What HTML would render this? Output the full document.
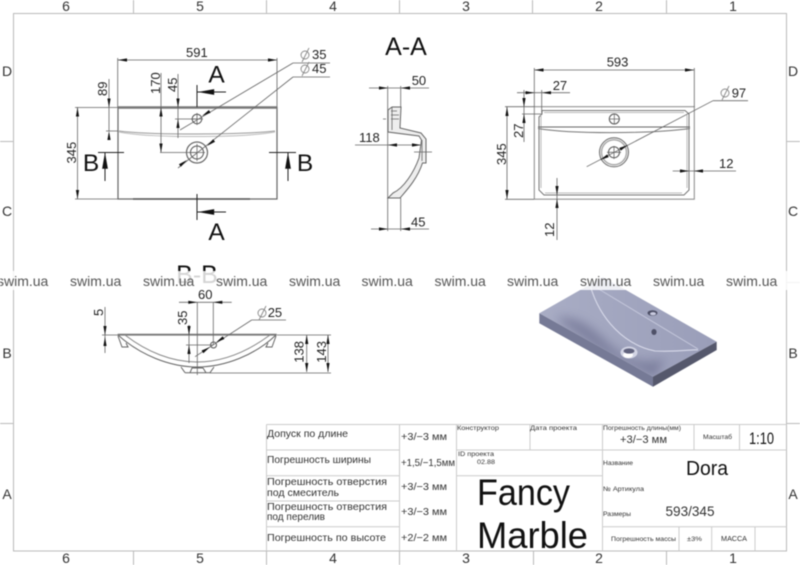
<!DOCTYPE html>
<html><head><meta charset="utf-8"><style>
html,body{margin:0;padding:0;background:#fff;width:800px;height:565px;overflow:hidden}
svg{display:block;filter:blur(.4px)}
text{font-family:"Liberation Sans",sans-serif}
.d{font-size:13px;fill:#222}
.z{font-size:14px;fill:#333;text-anchor:middle}
.s{font-size:14px;fill:#555}
.l{stroke:#666;stroke-width:.8;fill:none}
.o{stroke:#555;stroke-width:1;fill:none}
.g{stroke:#bbb;stroke-width:1;fill:none}
.t{stroke:#ccc;stroke-width:1;fill:none}
.c{font-family:"DejaVu Sans","Liberation Sans",sans-serif;fill:#333}
</style></head><body>
<svg width="800" height="565" viewBox="0 0 800 565" xmlns="http://www.w3.org/2000/svg">
<defs>
<polygon id="a" points="0,0 -9,-1.6 -9,1.6" fill="#111"/>
<g id="p" fill="none" stroke="#888" stroke-width=".9"><circle r="4"/><path d="M-3 7L4 -7"/></g>
<linearGradient id="tp" x1="0" y1="0" x2="1" y2="0"><stop offset="0" stop-color="#a9adc5"/><stop offset="1" stop-color="#9a9eb9"/></linearGradient>
<filter id="sb" x="-30%" y="-30%" width="160%" height="160%"><feGaussianBlur stdDeviation="5"/></filter>
<clipPath id="tc"><polygon points="539.300,313.300 603,277 716.700,341.700 653,376.700"/></clipPath>
</defs>
<rect width="800" height="565" fill="#fff"/>

<!-- frame -->
<path class="g" d="M13.500 13.500H786.500V551H13.500Z"/>
<path class="g" d="M133.500 0V13M266.500 0V13M399.500 0V13M532.500 0V13M666.500 0V13M133.500 551V565M266.500 551V565M399.500 551V565M533.500 551V565M666.500 551V565M0 141.500H13M0 282.500H13M0 423.500H13M787 141.500H800M787 282.500H800M787 423.500H800"/>
<g class="z">
<text x="66" y="11">6</text><text x="200" y="11">5</text><text x="333" y="11">4</text><text x="466" y="11">3</text><text x="599" y="11">2</text><text x="733" y="11">1</text>
<text x="66" y="563">6</text><text x="200" y="563">5</text><text x="333" y="563">4</text><text x="466" y="563">3</text><text x="599" y="563">2</text><text x="733" y="563">1</text>
<text x="7" y="76">D</text><text x="7" y="216">C</text><text x="7" y="358">B</text><text x="7" y="499">A</text>
<text x="793" y="76">D</text><text x="793" y="216">C</text><text x="793" y="358">B</text><text x="793" y="499">A</text>
</g>

<!-- LEFT VIEW -->
<rect x="118" y="107.500" width="159" height="91.500" fill="none" stroke="#666" stroke-width="1.200"/>
<path d="M118 107.500H277" stroke="#777" stroke-width="2.400"/>
<path d="M133 199H250" stroke="#555" stroke-width="1.400"/>
<path d="M119 131C150 135 240 135 275 131" stroke="#999" stroke-width="1" fill="none"/>
<path d="M119 132C150 138 240 138 275 132" stroke="#bbb" stroke-width="1" fill="none"/>
<circle cx="197" cy="119" r="4.800" class="o"/><path class="l" d="M191 119H203M197 113V125"/>
<circle cx="197" cy="152.500" r="10.500" fill="none" stroke="#666" stroke-width="1.200"/><circle cx="197" cy="152.500" r="6.500" class="o"/><path class="l" d="M189 152.500H205M197 144V161"/>
<path class="l" d="M117.700 58V107M277 58V107M118 60H277M75 107.500H118M75 199H118M109 79V131M106 131H118M161 73V152.500M160 152.500H197M178 74V138M175 119H197"/>
<path class="l" d="M77.500 107V199"/>
<path d="M293 63H330M293 63L180 130M293 77H330M293 77L178 168" class="l"/>
<use href="#a" transform="translate(118,60) rotate(180)"/><use href="#a" transform="translate(277,60)"/>
<use href="#a" transform="translate(77.500,107.500) rotate(-90)"/><use href="#a" transform="translate(77.500,199) rotate(90)"/>
<use href="#a" transform="translate(109,107.500) rotate(90)"/><use href="#a" transform="translate(109,131) rotate(-90)"/>
<use href="#a" transform="translate(161,107.500) rotate(-90)"/><use href="#a" transform="translate(161,152.500) rotate(90)"/>
<use href="#a" transform="translate(178,107.500) rotate(90)"/><use href="#a" transform="translate(178,119) rotate(-90)"/>
<use href="#a" transform="translate(202,116) rotate(149)"/><use href="#a" transform="translate(207,146) rotate(142)"/><use href="#a" transform="translate(187,160) rotate(-38)"/>
<text class="d" x="186" y="57">591</text>
<use href="#p" x="305" y="55"/><text class="d" x="312" y="59">35</text>
<use href="#p" x="305" y="69"/><text class="d" x="312" y="73">45</text>
<text class="d" transform="translate(76,163.500) rotate(-90)">345</text>
<text class="d" transform="translate(107,96) rotate(-90)">89</text>
<text class="d" transform="translate(160,94) rotate(-90)">170</text>
<text class="d" transform="translate(177,92) rotate(-90)">45</text>
<!-- section marks -->
<path d="M197 85V107M197 92H226M197 194V220M197 212H226M98 152.500H124M105 152.500V181M269 152.500H296M288 152.500V181" stroke="#222" stroke-width="1" fill="none"/>
<use href="#a" transform="translate(198,92) rotate(180) scale(1.800)"/><use href="#a" transform="translate(198,212) rotate(180) scale(1.800)"/>
<use href="#a" transform="translate(105,152.500) rotate(-90) scale(1.800)"/><use href="#a" transform="translate(288,152.500) rotate(-90) scale(1.800)"/>
<g font-size="24.500" fill="#111" text-anchor="middle"><text x="216.500" y="82.500">A</text><text x="216.500" y="240">A</text><text x="91" y="171">B</text><text x="305" y="171">B</text></g>

<!-- A-A -->
<text x="406" y="55" font-size="25" fill="#111" text-anchor="middle">A-A</text>
<path class="l" d="M387.700 86V231M400.700 86V108M400.700 198V231M369 88H429M355 145H422M371 229H429"/>
<use href="#a" transform="translate(388,88)"/><use href="#a" transform="translate(401,88) rotate(180)"/>
<use href="#a" transform="translate(388,145) rotate(180)"/><use href="#a" transform="translate(421,145)"/>
<use href="#a" transform="translate(388,229)"/><use href="#a" transform="translate(401,229) rotate(180)"/>
<path d="M388 110L392 107H401L400 128L421 133L426 139V163H422.500C417 180 405 192 400 198H388L393 193C404 188 414 172 419 158L421.500 140L419 136L388 132Z" fill="#eee" stroke="#666" stroke-width="1"/>
<path class="l" d="M391 111H397M391 115H399M391 119H399M392 107V130M422 140V161M383 119H386M414 152H432"/>
<text class="d" x="411.700" y="85">50</text><text class="d" x="359" y="142">118</text><text class="d" x="411" y="226.700">45</text>

<!-- RIGHT VIEW -->
<rect x="534.300" y="106.700" width="160" height="92.500" fill="none" stroke="#888" stroke-width="1"/>
<path d="M542 114V110.500H685L689 114V190L684 195H544L539 190V117Z" fill="none" stroke="#777" stroke-width="1"/>
<path d="M544 112.500H684M541 115V188M687 115V188M545 193H682" stroke="#bbb" stroke-width="1" fill="none"/>
<path d="M538 127H690" stroke="#666" stroke-width="1"/>
<path d="M538 128.500C570 134 650 134 690 128.500" stroke="#777" stroke-width="1" fill="none"/>
<circle cx="614.300" cy="119" r="5" class="o"/><path class="l" d="M609 119H620M614.300 114V124"/>
<circle cx="614" cy="152.300" r="14.500" fill="none" stroke="#666" stroke-width="1"/><circle cx="614" cy="152.300" r="12.500" fill="none" stroke="#aaa" stroke-width="1.500"/><circle cx="614" cy="152.300" r="5.500" class="o"/><path class="l" d="M607 152.300H621M614 146V159"/>
<path class="l" d="M534.300 68V107M694.300 68V107M534 70H694M517 92.700H570M541.700 90V113M522 114H542M524 90V142M505 106.700H534M505 199.300H534M507 107V199M713 100.700H748M713 100.700L586.700 166.700M672.700 171H736M557 178V240"/>
<use href="#a" transform="translate(534.500,70) rotate(180)"/><use href="#a" transform="translate(694,70)"/>
<use href="#a" transform="translate(534.500,92.700)"/><use href="#a" transform="translate(542,92.700) rotate(180)"/>
<use href="#a" transform="translate(524,107) rotate(90)"/><use href="#a" transform="translate(524,114) rotate(-90)"/>
<use href="#a" transform="translate(507,107) rotate(-90)"/><use href="#a" transform="translate(507,199) rotate(90)"/>
<use href="#a" transform="translate(628,145) rotate(-28)"/><use href="#a" transform="translate(600,160) rotate(152)"/>
<use href="#a" transform="translate(689,171)"/><use href="#a" transform="translate(694,171) rotate(180)"/>
<use href="#a" transform="translate(557,195) rotate(90)"/><use href="#a" transform="translate(557,199) rotate(-90)"/>
<text class="d" x="606.700" y="66.700">593</text><text class="d" x="552.700" y="90">27</text>
<use href="#p" x="725" y="93"/><text class="d" x="731.700" y="97.300">97</text><text class="d" x="719" y="168">12</text>
<text class="d" transform="translate(523,138) rotate(-90)">27</text>
<text class="d" transform="translate(506,165) rotate(-90)">345</text>
<text class="d" transform="translate(554,237) rotate(-90)">12</text>

<!-- B-B -->
<text x="197" y="283" font-size="25" fill="#111" text-anchor="middle">B-B</text>

<!-- 3D -->
<polygon points="539.300,313.300 603,277 716.700,341.700 653,376.700" fill="url(#tp)"/>
<g clip-path="url(#tc)">
<path d="M555 318C575 315 590 325 605 340C620 355 640 368 665 358L655 378L600 352Z" fill="#6d7090" opacity=".7" filter="url(#sb)"/>
</g>
<polygon points="539.300,313.300 653,376.700 653,386.700 539.300,323.300" fill="#767a96"/>
<polygon points="653,376.700 716.700,341.700 716.700,350 653,386.700" fill="#55586c"/>
<path d="M590 285C600 320 625 345 655 351C680 352 695 349 698 350" fill="none" stroke="#d8daea" stroke-width="1.100"/>
<path d="M597 288L698 349" stroke="#c5c8dc" stroke-width="1" fill="none"/>
<ellipse cx="652.500" cy="313" rx="5" ry="2.800" fill="#4d4f66"/><ellipse cx="653" cy="313.700" rx="3" ry="1.600" fill="#c9cbe0"/>
<ellipse cx="654" cy="332" rx="2.600" ry="3" fill="#4f5168"/>
<ellipse cx="629" cy="352.500" rx="8.500" ry="6" fill="#d2d4e4"/><ellipse cx="628" cy="355" rx="5" ry="3" fill="#fff"/><ellipse cx="629" cy="351" rx="5.500" ry="2.600" fill="#60627d"/>

<!-- watermark band -->
<rect x="0" y="271" width="800" height="19" fill="#fff" opacity=".82"/>
<g class="s">
<text x="-3" y="286">swim.ua</text><text x="70" y="286">swim.ua</text><text x="143" y="286">swim.ua</text><text x="216" y="286">swim.ua</text><text x="289" y="286">swim.ua</text><text x="361.500" y="286">swim.ua</text><text x="434.500" y="286">swim.ua</text><text x="507" y="286">swim.ua</text><text x="580" y="286">swim.ua</text><text x="653" y="286">swim.ua</text><text x="726" y="286">swim.ua</text>
</g>

<path d="M117.700 334.700H276.700" stroke="#777" stroke-width="1.800"/>
<path d="M118 335C140 355 170 367 197 367C225 367 255 355 276 335" fill="none" stroke="#666" stroke-width="1"/>
<path d="M125 335C147 352 172 362 197 362C222 362 247 352 270 335" fill="none" stroke="#888" stroke-width="1"/>
<path d="M118 336L122 347H128L126 343M276 336L272 347H266L268 343M185 372.700H210L214 367M185 372.700L181 367M190 372.700L192 368H203L206 372.700" fill="none" stroke="#666" stroke-width="1"/>
<circle cx="213.500" cy="345" r="3" class="o"/>
<path class="l" d="M179 302.300H231.700M197.300 302V375M213.300 302V345M189 325V363M186 345H213M105 307V353M102 335H118M306.700 335V372M328 335V372M277 335H331M210 373H331M251.700 320H286M251.700 320L195 356.700"/>
<use href="#a" transform="translate(197.300,302.300)"/><use href="#a" transform="translate(213.300,302.300) rotate(180)"/>
<use href="#a" transform="translate(189,335) rotate(90)"/><use href="#a" transform="translate(189,345) rotate(-90)"/>
<use href="#a" transform="translate(105,335) rotate(90)"/><use href="#a" transform="translate(105,337) rotate(-90)"/>
<use href="#a" transform="translate(306.700,335) rotate(-90)"/><use href="#a" transform="translate(306.700,372) rotate(90)"/>
<use href="#a" transform="translate(328,335) rotate(-90)"/><use href="#a" transform="translate(328,372) rotate(90)"/>
<use href="#a" transform="translate(216,342.500) rotate(147)"/><use href="#a" transform="translate(210,347) rotate(-33)"/>
<text class="d" x="198" y="299">60</text>
<use href="#p" x="262" y="313"/><text class="d" x="267.700" y="317">25</text>
<text class="d" transform="translate(187,325) rotate(-90)">35</text>
<text class="d" transform="translate(103,316) rotate(-90)">5</text>
<text class="d" transform="translate(303.500,362.700) rotate(-90)">138</text>
<text class="d" transform="translate(326,362.700) rotate(-90)">143</text>

<!-- title block -->
<path class="t" d="M266.500 424.500H786.500M266.500 450H399.500M456 450H786.500M266.500 475.700H399.500M456 475.700H602.500M266.500 501H399.500M266.500 526.700H399.500M602.500 526.700H786.500M266.500 424.500V551M399.500 424.500V551M456.500 424.500V551M530 424.500V450M602.500 424.500V551M694 424.500V450M739.500 424.500V450M679 526.700V551M711.700 526.700V551M755 526.700V551"/>
<g class="c" font-size="10.500">
<text x="267" y="437" textLength="81" lengthAdjust="spacingAndGlyphs">Допуск по длине</text>
<text x="267" y="463" textLength="104" lengthAdjust="spacingAndGlyphs">Погрешность ширины</text>
<text x="267" y="485" textLength="120" lengthAdjust="spacingAndGlyphs">Погрешность отверстия</text>
<text x="267" y="496" textLength="72" lengthAdjust="spacingAndGlyphs">под смеситель</text>
<text x="267" y="510" textLength="120" lengthAdjust="spacingAndGlyphs">Погрешность отверстия</text>
<text x="267" y="520" textLength="58" lengthAdjust="spacingAndGlyphs">под перелив</text>
<text x="267" y="541" textLength="119" lengthAdjust="spacingAndGlyphs">Погрешность по высоте</text>
<text x="401" y="440" textLength="46" lengthAdjust="spacingAndGlyphs">+3/−3 мм</text>
<text x="401" y="466" textLength="54" lengthAdjust="spacingAndGlyphs">+1,5/−1,5мм</text>
<text x="401" y="490" textLength="46" lengthAdjust="spacingAndGlyphs">+3/−3 мм</text>
<text x="401" y="515" textLength="46" lengthAdjust="spacingAndGlyphs">+3/−3 мм</text>
<text x="401" y="541" textLength="46" lengthAdjust="spacingAndGlyphs">+2/−2 мм</text>
<text x="620" y="443" font-size="11" textLength="47" lengthAdjust="spacingAndGlyphs">+3/−3 мм</text>
<text x="665.500" y="516" font-size="14" textLength="49" lengthAdjust="spacingAndGlyphs">593/345</text>
<text x="686" y="475" font-size="20" textLength="42" lengthAdjust="spacingAndGlyphs" fill="#111">Dora</text>
<text x="749" y="444" font-size="17" textLength="25" lengthAdjust="spacingAndGlyphs" fill="#111">1:10</text>
</g>
<g class="c" font-size="6.500">
<text x="457" y="430" textLength="42" lengthAdjust="spacingAndGlyphs">Конструктор</text>
<text x="530" y="430" textLength="47" lengthAdjust="spacingAndGlyphs">Дата проекта</text>
<text x="458" y="456" textLength="36" lengthAdjust="spacingAndGlyphs">ID проекта</text>
<text x="477" y="464" textLength="18" lengthAdjust="spacingAndGlyphs">02.88</text>
<text x="603" y="430" textLength="78" lengthAdjust="spacingAndGlyphs">Погрешность длины(мм)</text>
<text x="703" y="439" textLength="29" lengthAdjust="spacingAndGlyphs">Масштаб</text>
<text x="603" y="465" textLength="30" lengthAdjust="spacingAndGlyphs">Название</text>
<text x="603" y="491" textLength="41" lengthAdjust="spacingAndGlyphs">№ Артикула</text>
<text x="603" y="516" textLength="28" lengthAdjust="spacingAndGlyphs">Размеры</text>
<text x="611" y="541" textLength="65" lengthAdjust="spacingAndGlyphs">Погрешность массы</text>
<text x="687" y="541" textLength="15" lengthAdjust="spacingAndGlyphs">±3%</text>
<text x="721" y="541" font-size="7.500" textLength="26" lengthAdjust="spacingAndGlyphs">МАССА</text>
</g>
<text x="477" y="505" font-size="37" fill="#111" textLength="93" lengthAdjust="spacingAndGlyphs">Fancy</text>
<text x="477" y="548" font-size="37" fill="#111" textLength="111" lengthAdjust="spacingAndGlyphs">Marble</text>
</svg>
</body></html>
